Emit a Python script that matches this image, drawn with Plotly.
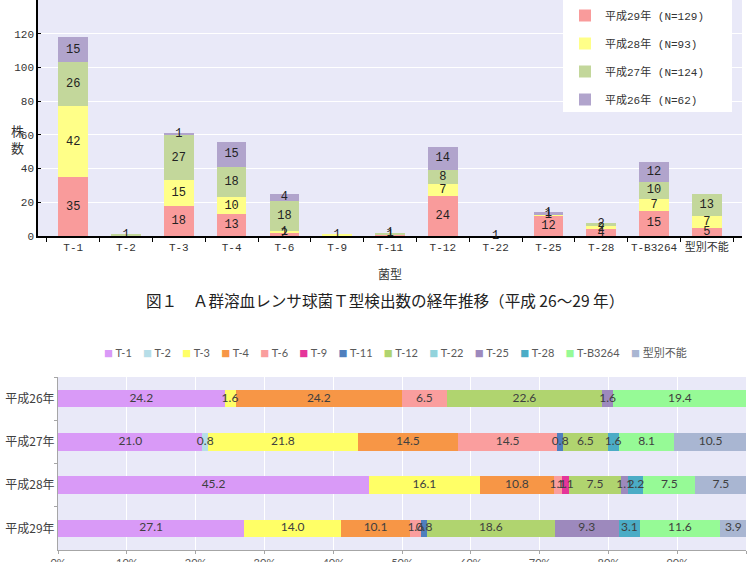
import plotly.graph_objects as go

# ---------------- data: top chart (counts) ----------------
types = ["T-1", "T-2", "T-3", "T-4", "T-6", "T-9", "T-11", "T-12", "T-22", "T-25", "T-28", "T-B3264", "型別不能"]
h29 = [35, None, 18, 13, 2, None, 1, 24, None, 12, 4, 15, 5]
h28 = [42, None, 15, 10, 1, 1, None, 7, None, 1, 2, 7, 7]
h27 = [26, 1, 27, 18, 18, None, 1, 8, None, None, 2, 10, 13]
h26 = [15, None, 1, 15, 4, None, None, 14, None, 1, None, 12, None]
top_series = [
    ("平成29年 (N=129)", h29, "#F99B9B"),
    ("平成28年 (N=93)", h28, "#FFFF88"),
    ("平成27年 (N=124)", h27, "#C3D79B"),
    ("平成26年 (N=62)", h26, "#B1A4CC"),
]
t22_label = ("T-22", "1")
y_ticks = [0, 20, 40, 60, 80, 100, 120, 140]

# ---------------- data: bottom chart (percent) ----------------
years = ["平成26年", "平成27年", "平成28年", "平成29年"]
pct = {
    "T-1":      [24.2, 21.0, 45.2, 27.1],
    "T-2":      [None, 0.8, None, None],
    "T-3":      [1.6, 21.8, 16.1, 14.0],
    "T-4":      [24.2, 14.5, 10.8, 10.1],
    "T-6":      [6.5, 14.5, 1.1, 1.6],
    "T-9":      [None, None, 1.1, None],
    "T-11":     [None, 0.8, None, 0.8],
    "T-12":     [22.6, 6.5, 7.5, 18.6],
    "T-22":     [None, None, None, None],
    "T-25":     [1.6, None, 1.1, 9.3],
    "T-28":     [None, 1.6, 2.2, 3.1],
    "T-B3264":  [19.4, 8.1, 7.5, 11.6],
    "型別不能": [None, 10.5, 7.5, 3.9],
}
pct_colors = {
    "T-1": "#D99AF7", "T-2": "#B7DEE8", "T-3": "#FFFF66", "T-4": "#F79646",
    "T-6": "#FA9E9E", "T-9": "#E5359A", "T-11": "#4F7FBD", "T-12": "#B0D46F",
    "T-22": "#92D3DC", "T-25": "#9D89BD", "T-28": "#4BACC6", "T-B3264": "#96FA96",
    "型別不能": "#A9B6D2",
}
x_ticks = [0, 10, 20, 30, 40, 50, 60, 70, 80, 90, 100]

W, H = 754, 562
fig = go.Figure()

topfont = "Liberation Mono, Noto Sans CJK JP"
botfont = "Lato, Noto Sans CJK JP"

# ---- top stacked bars ----
base = [0.0] * len(types)
label_x, label_y, label_t = [], [], []
for name, vals, col in top_series:
    fig.add_trace(go.Bar(
        x=types, y=vals, name=name, marker=dict(color=col, line=dict(width=0)),
        xaxis="x", yaxis="y", legend="legend", legendgroup=name, hoverinfo="skip",
    ))
    for i, v in enumerate(vals):
        if v is not None:
            label_x.append(types[i])
            label_y.append(base[i] + v / 2)
            label_t.append(str(v))
            base[i] += v
fig.add_trace(go.Scatter(
    x=label_x, y=label_y, text=label_t, mode="text", showlegend=False,
    textfont=dict(family=topfont, size=12, color="#222222"),
    xaxis="x", yaxis="y", hoverinfo="skip",
))

# ---- bottom 100% bars ----
base2 = [0.0] * len(years)
lx, ly, lt = [], [], []
for k, vals in pct.items():
    fig.add_trace(go.Bar(
        y=years, x=vals, name=k, orientation="h", width=0.4,
        marker=dict(color=pct_colors[k], line=dict(width=0)),
        xaxis="x2", yaxis="y2", showlegend=False, hoverinfo="skip",
    ))
    for i, v in enumerate(vals):
        if v is not None:
            lx.append(base2[i] + v / 2)
            ly.append(years[i])
            lt.append(f"{v:.1f}")
            base2[i] += v
fig.add_trace(go.Scatter(
    x=lx, y=ly, text=lt, mode="text", showlegend=False,
    textfont=dict(family=botfont, size=12, color="#404040"),
    xaxis="x2", yaxis="y2", hoverinfo="skip",
))

fig.add_annotation(x=t22_label[0], y=0, xref="x", yref="y", text=t22_label[1],
                   showarrow=False, yanchor="middle",
                   font=dict(family=topfont, size=12, color="#222222"))

# bottom legend as a text row built from the series names / colours
legend_row = "&nbsp;&nbsp;&nbsp;&nbsp;".join(
    f"<span style='color:{pct_colors[k]};font-size:9px'>■</span>&nbsp;{k}" for k in pct
)
fig.add_annotation(x=395 / W, y=1 - 352 / H, xref="paper", yref="paper",
                   text=legend_row, showarrow=False, xanchor="center", yanchor="middle",
                   font=dict(family=botfont, size=11, color="#595959"))

# legend background box (top chart)
fig.add_shape(type="rect", xref="paper", yref="paper",
              x0=563 / W, x1=732 / W, y0=1 - 112 / H, y1=1.01,
              fillcolor="white", line=dict(width=0), layer="below")

fig.update_layout(
    width=W, height=H, margin=dict(l=0, r=0, t=0, b=0, autoexpand=False),
    paper_bgcolor="white", plot_bgcolor="#E9E9F8", barmode="stack",
    bargap=0.44,
    showlegend=True,
    xaxis=dict(domain=[38 / W, 742 / W], anchor="y", type="category",
               showline=True, linecolor="black", linewidth=1.5,
               ticks="outside", ticklen=4, tickson="boundaries", tickcolor="black",
               tickangle=0,
               tickfont=dict(family=topfont, size=11, color="#333333"),
               title=dict(text="菌型", font=dict(family="Noto Sans CJK JP", size=12, color="#333333"),
                          standoff=18)),
    yaxis=dict(domain=[1 - 236 / H, 1], anchor="x", range=[0, 140],
               tickvals=y_ticks, showline=True, linecolor="black", linewidth=1.5,
               ticks="inside", ticklen=3, tickcolor="black",
               gridcolor="white", gridwidth=1, zeroline=False,
               tickfont=dict(family=topfont, size=11, color="#333333")),
    xaxis2=dict(domain=[58 / W, 746 / W], anchor="y2", range=[0, 100],
                tickvals=x_ticks, ticktext=[f"{v}%" for v in x_ticks],
                showline=True, linecolor="#A6A6A6", ticks="outside", ticklen=3,
                tickcolor="#A6A6A6", gridcolor="white", gridwidth=1, zeroline=False,
                tickfont=dict(family="Lato", size=11, color="#595959")),
    yaxis2=dict(domain=[12 / H, 1 - 377 / H], anchor="x2", type="category",
                autorange="reversed", showline=True, linecolor="#A6A6A6",
                ticks="outside", ticklen=3, tickcolor="#A6A6A6", tickson="boundaries",
                tickfont=dict(family="Noto Sans CJK JP", size=12, color="#404040")),
    legend=dict(x=565 / W, y=1 - 1 / H, xanchor="left", yanchor="top",
                bgcolor="rgba(0,0,0,0)", traceorder="reversed+grouped",
                tracegroupgap=9, itemwidth=30,
                font=dict(family=topfont, size=11, color="#333333")),
)

fig.add_annotation(x=9 / W, y=1 - 119 / H, xref="paper", yref="paper",
                   text="株<br>数", showarrow=False,
                   font=dict(family="Noto Sans CJK JP", size=13, color="#333333"))
fig.add_annotation(x=385 / W, y=1 - 300 / H, xref="paper", yref="paper",
                   text="図１　Ａ群溶血レンサ球菌Ｔ型検出数の経年推移（平成 26～29 年）",
                   showarrow=False,
                   font=dict(family="Noto Sans CJK JP", size=15.6, color="#222222"))

fig.write_html("out.html")
